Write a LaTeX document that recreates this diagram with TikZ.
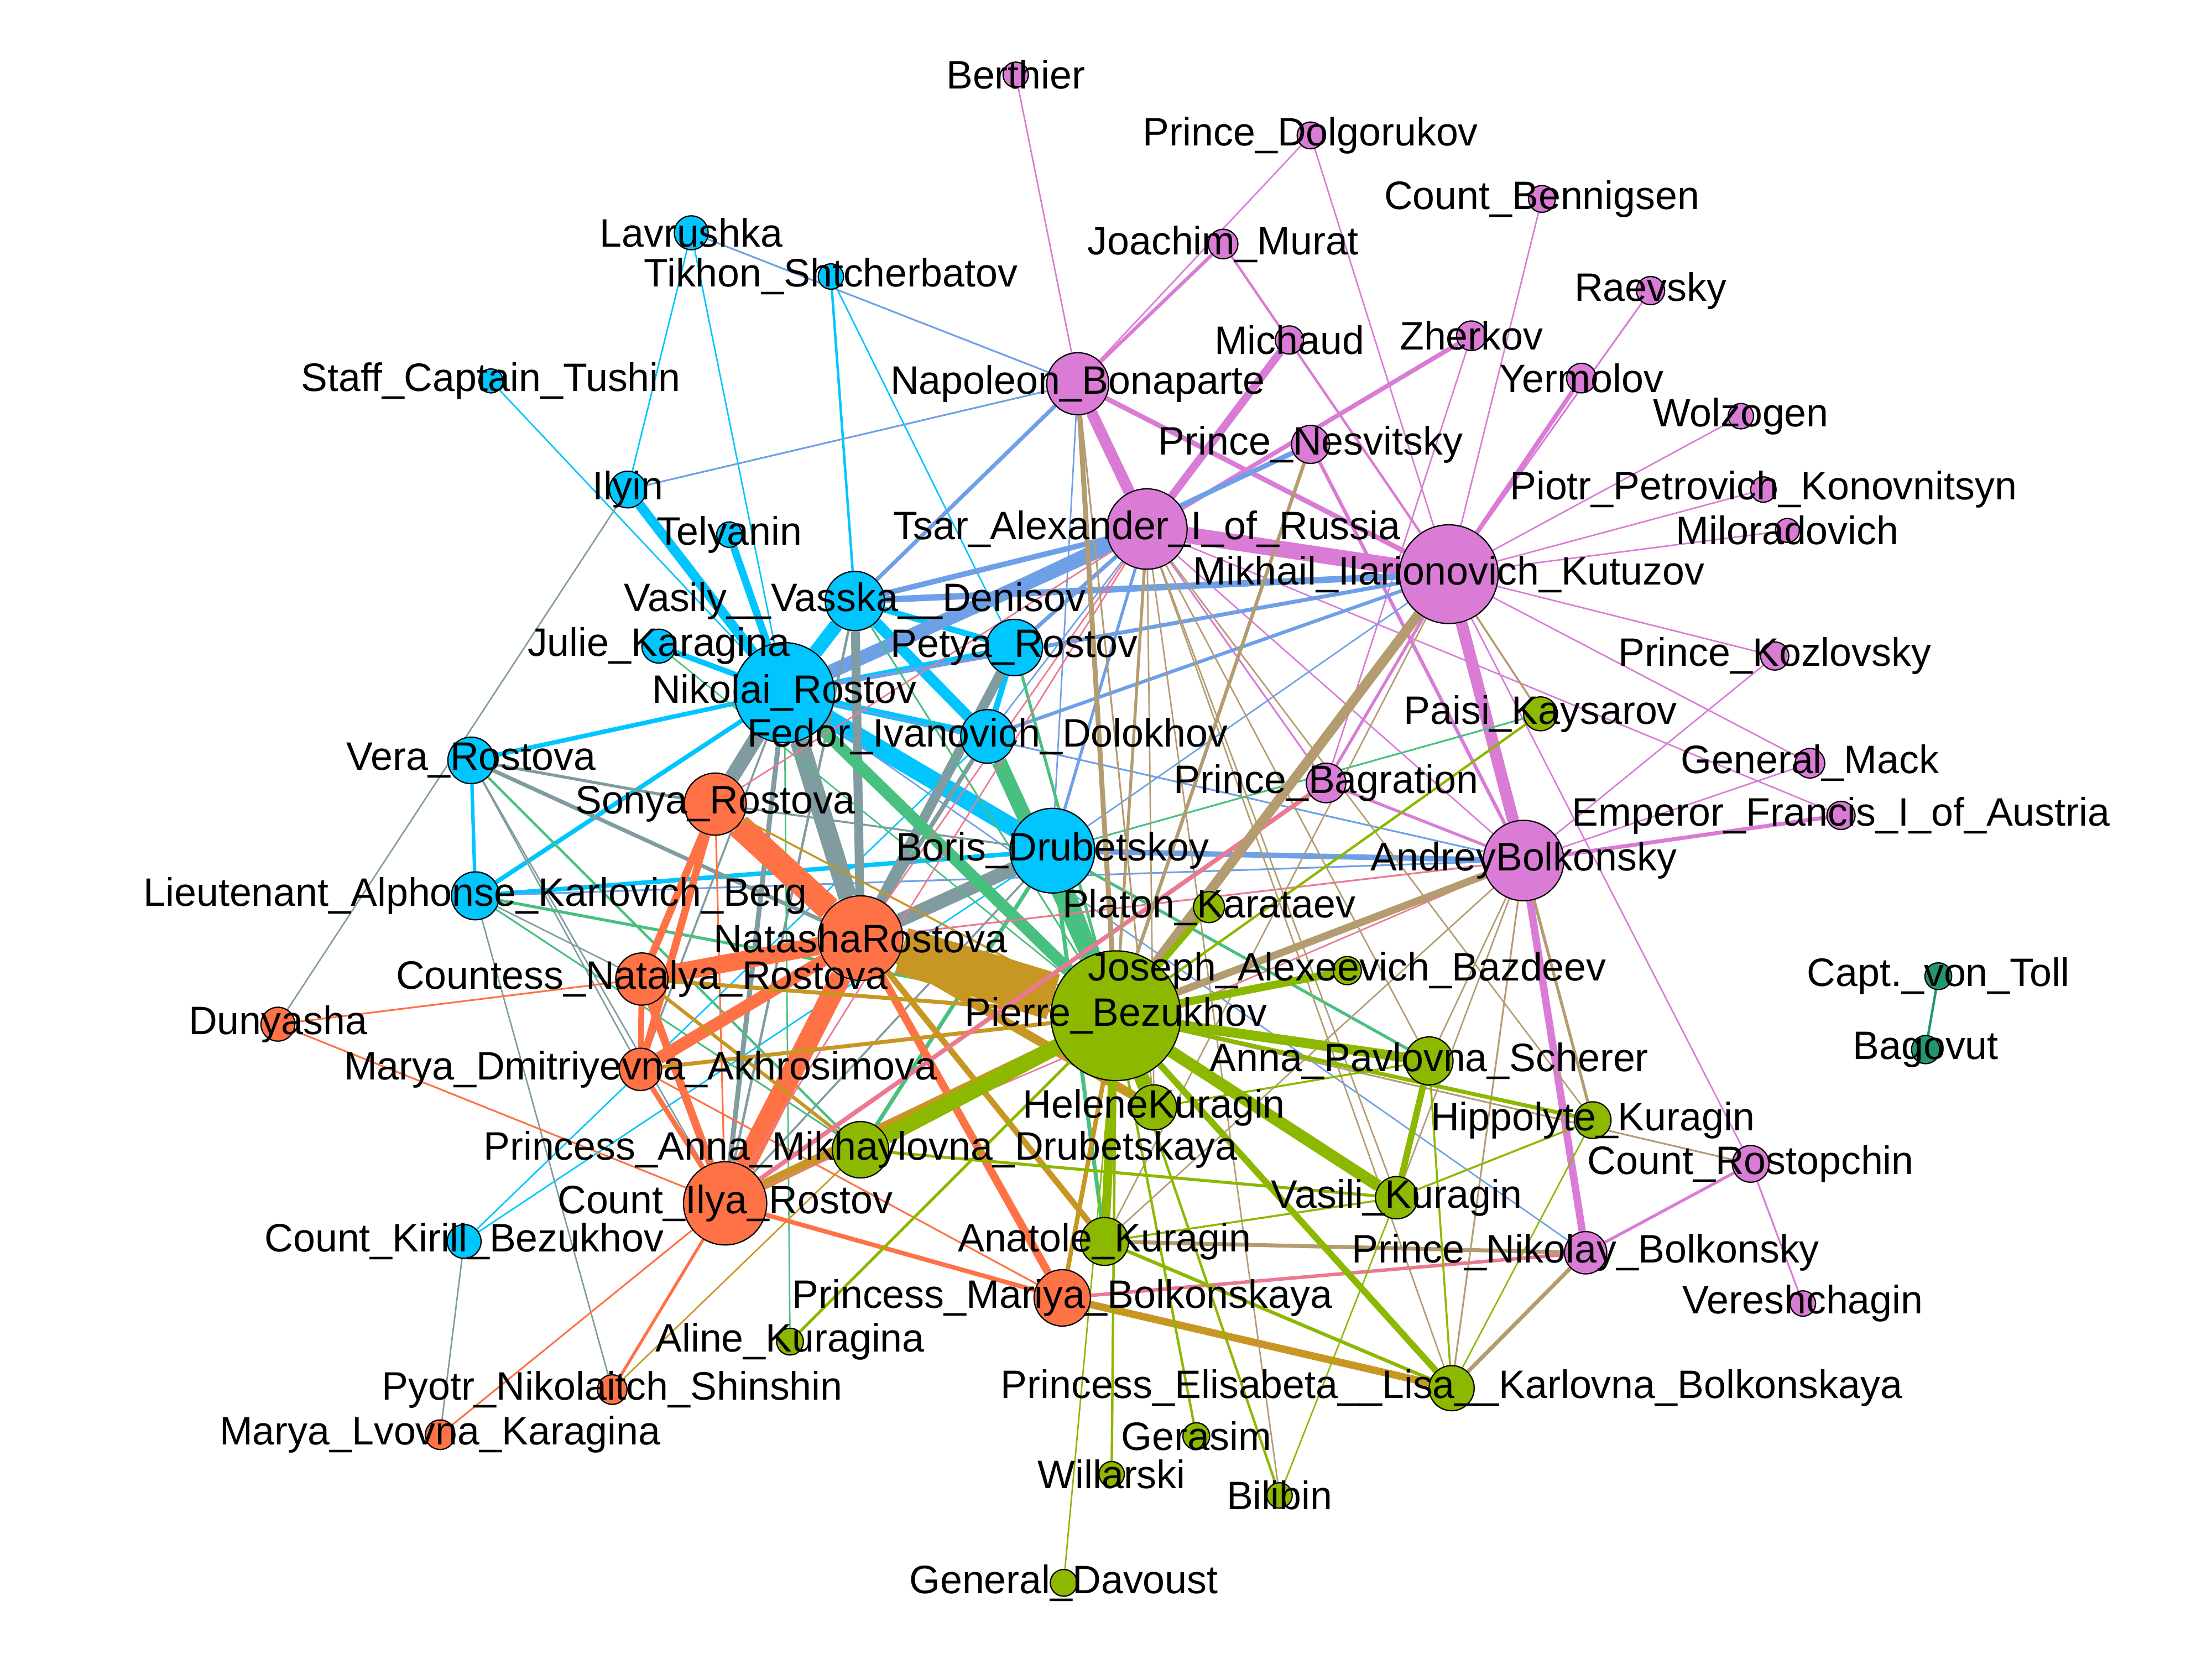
\documentclass[tikz,border=0pt]{standalone}
\usepackage{fontspec}
\setmainfont{Liberation Sans}
\pgfdeclarelayer{edges}
\pgfdeclarelayer{labels}
\pgfsetlayers{edges,main,labels}

\definecolor{nPur}{RGB}{218,123,214}
\definecolor{nBlu}{RGB}{0,197,255}
\definecolor{nOra}{RGB}{255,114,70}
\definecolor{nGre}{RGB}{140,184,0}
\definecolor{nTea}{RGB}{35,150,110}
\definecolor{eBP}{RGB}{110,160,232}
\definecolor{eBO}{RGB}{128,156,160}
\definecolor{ePG}{RGB}{180,156,112}
\definecolor{eOG}{RGB}{200,150,35}
\definecolor{eBG}{RGB}{72,192,128}
\definecolor{eOP}{RGB}{236,120,145}

\tikzset{
  vnode/.style={circle, draw=black, line width=0.25pt, inner sep=0pt},
  lbl/.style={inner sep=0pt, font=\fontsize{8}{9.6}\selectfont},
}

\begin{document}
\begin{tikzpicture}[x=0.1mm, y=-0.1mm]
\useasboundingbox (0,0) rectangle (1568,1176);

% characters: name / x / y / diameter (mm) / colour / label
\foreach \n/\x/\y/\d/\c/\t in {
  pierre/791/720/9.2/nGre/Pierre\_Bezukhov,
  kutuzov/1027/407/7.0/nPur/Mikhail\_Ilarionovich\_Kutuzov,
  nikolai/556/491/7.1/nBlu/Nikolai\_Rostov,
  ilya/514/853/5.9/nOra/Count\_Ilya\_Rostov,
  natasha/610/665/6.0/nOra/NatashaRostova,
  boris/746/603/6.0/nBlu/Boris\_Drubetskoy,
  tsar/813/375/5.7/nPur/Tsar\_Alexander\_I\_of\_Russia,
  andrey/1080/610/5.7/nPur/AndreyBolkonsky,
  napoleon/764/272/4.4/nPur/Napoleon\_Bonaparte,
  sonya/507/570/4.4/nOra/Sonya\_Rostova,
  denisov/606/426/4.2/nBlu/Vasily\_\_Vasska\_\_Denisov,
  petya/719/459/4.0/nBlu/Petya\_Rostov,
  annam/610/815/4.0/nGre/Princess\_Anna\_Mikhaylovna\_Drubetskaya,
  mariya/753/920/4.0/nOra/Princess\_Mariya\_Bolkonskaya,
  dolokhov/700/522/3.8/nBlu/Fedor\_Ivanovich\_Dolokhov,
  countess/455/694/3.7/nOra/Countess\_Natalya\_Rostova,
  anatole/783/880/3.4/nGre/Anatole\_Kuragin,
  annap/1013/752/3.4/nGre/Anna\_Pavlovna\_Scherer,
  berg/337/635/3.4/nBlu/Lieutenant\_Alphonse\_Karlovich\_Berg,
  vera/334/539/3.3/nBlu/Vera\_Rostova,
  helene/818/785/3.2/nGre/HeleneKuragin,
  lisa/1029/984/3.2/nGre/Princess\_Elisabeta\_\_Lisa\_\_Karlovna\_Bolkonskaya,
  vasili/990/849/3.0/nGre/Vasili\_Kuragin,
  akhros/454/758/3.0/nOra/Marya\_Dmitriyevna\_Akhrosimova,
  nbolk/1124/888/3.0/nPur/Prince\_Nikolay\_Bolkonsky,
  bagration/940/555/2.8/nPur/Prince\_Bagration,
  nesvitsky/929/315/2.7/nPur/Prince\_Nesvitsky,
  ilyin/445/347/2.6/nBlu/Ilyin,
  rostopchin/1241/825/2.6/nPur/Count\_Rostopchin,
  hippolyte/1129/794/2.6/nGre/Hippolyte\_Kuragin,
  lavrushka/490/165/2.4/nBlu/Lavrushka,
  julie/467/458/2.4/nBlu/Julie\_Karagina,
  kirill/329/880/2.4/nBlu/Count\_Kirill\_Bezukhov,
  dunyasha/197/726/2.4/nOra/Dunyasha,
  paisi/1092/506/2.4/nGre/Paisi\_Kaysarov,
  platon/857/643/2.2/nGre/Platon\_Karataev,
  murat/867/173/2.1/nPur/Joachim\_Murat,
  zherkov/1043/238/2.1/nPur/Zherkov,
  yermolov/1121/268/2.1/nPur/Yermolov,
  mack/1283/541/2.1/nPur/General\_Mack,
  shinshin/434/985/2.1/nOra/Pyotr\_Nikolaitch\_Shinshin,
  mlvovna/312/1017/2.1/nOra/Marya\_Lvovna\_Karagina,
  michaud/914/241/2.0/nPur/Michaud,
  raevsky/1170/206/2.0/nPur/Raevsky,
  kozlovsky/1258/465/2.0/nPur/Prince\_Kozlovsky,
  francis/1305/578/2.0/nPur/Emperor\_Francis\_I\_of\_Austria,
  joseph/955/688/2.0/nGre/Joseph\_Alexeevich\_Bazdeev,
  bagovut/1365/744/2.0/nTea/Bagovut,
  dolgorukov/929/96/1.9/nPur/Prince\_Dolgorukov,
  bennigsen/1093/141/1.9/nPur/Count\_Bennigsen,
  toll/1374/692/1.9/nTea/Capt.\_von\_Toll,
  aline/560/951/1.9/nGre/Aline\_Kuragina,
  gerasim/848/1018/1.9/nGre/Gerasim,
  davoust/754/1122/1.9/nGre/General\_Davoust,
  berthier/720/53/1.8/nPur/Berthier,
  wolzogen/1234/295/1.8/nPur/Wolzogen,
  konov/1250/347/1.8/nPur/Piotr\_Petrovich\_Konovnitsyn,
  tikhon/589/196/1.8/nBlu/Tikhon\_Shtcherbatov,
  telyanin/517/379/1.8/nBlu/Telyanin,
  vereshchagin/1278/924/1.8/nPur/Vereshchagin,
  willarski/788/1045/1.8/nGre/Willarski,
  bilibin/907/1060/1.8/nGre/Bilibin,
  milorad/1267/376/1.7/nPur/Miloradovich,
  tushin/348/270/1.7/nBlu/Staff\_Captain\_Tushin}{
  \node[vnode, fill=\c, minimum size=\d mm] (\n) at (\x,\y) {};
  \begin{pgfonlayer}{labels}
    \node[lbl] (\n-l) at (\n) {\t};
  \end{pgfonlayer}
}

\begin{pgfonlayer}{edges}
% purple - purple
\foreach \a/\b/\w in {berthier/napoleon/0.3, dolgorukov/napoleon/0.3, dolgorukov/kutuzov/0.3,
  murat/napoleon/0.7, murat/kutuzov/0.5, michaud/tsar/1.6, zherkov/tsar/0.9,
  zherkov/bagration/0.3, bennigsen/kutuzov/0.3, raevsky/kutuzov/0.35, yermolov/kutuzov/0.9,
  wolzogen/kutuzov/0.3, konov/kutuzov/0.3, milorad/kutuzov/0.3, kozlovsky/kutuzov/0.3,
  mack/kutuzov/0.3, napoleon/tsar/2.3, napoleon/kutuzov/1.0, tsar/kutuzov/3.3,
  tsar/andrey/0.3, tsar/bagration/0.35, tsar/francis/0.3, kutuzov/andrey/2.4,
  kutuzov/bagration/0.6, nesvitsky/andrey/0.7, bagration/andrey/0.6, kozlovsky/andrey/0.3,
  mack/andrey/0.3, francis/andrey/0.8, andrey/nbolk/1.5, rostopchin/nbolk/0.6,
  rostopchin/vereshchagin/0.35, kutuzov/rostopchin/0.3}
  \draw[nPur, line width=\w pt] (\a) -- (\b);
\draw[nTea, line width=0.5pt] (toll) -- (bagovut);
% blue - blue
\foreach \a/\b/\w in {ilyin/nikolai/2.0, telyanin/nikolai/1.5, denisov/nikolai/2.8,
  nikolai/boris/3.6, denisov/dolokhov/2.2, nikolai/dolokhov/1.5, petya/dolokhov/1.2,
  denisov/petya/1.2, nikolai/petya/1.1, julie/nikolai/1.1, vera/nikolai/0.9,
  berg/nikolai/0.9, vera/berg/0.7, berg/boris/0.9, tikhon/denisov/0.5, tikhon/petya/0.3,
  lavrushka/ilyin/0.3, lavrushka/nikolai/0.3, tushin/nikolai/0.3, kirill/boris/0.3,
  kirill/dolokhov/0.3}
  \draw[nBlu, line width=\w pt] (\a) -- (\b);
% blue - purple
\foreach \a/\b/\w in {tsar/nikolai/2.8, tsar/denisov/1.1, tsar/petya/0.8, tsar/boris/0.6,
  kutuzov/denisov/1.3, kutuzov/nikolai/0.8, kutuzov/dolokhov/0.7, kutuzov/boris/0.3,
  napoleon/denisov/0.8, napoleon/ilyin/0.35, napoleon/lavrushka/0.35, napoleon/boris/0.3,
  nesvitsky/nikolai/1.0, andrey/boris/1.1, andrey/nikolai/0.35, andrey/berg/0.35,
  nbolk/nikolai/0.3, tsar/dolokhov/0.3}
  \draw[eBP, line width=\w pt] (\a) -- (\b);
% blue - orange
\foreach \a/\b/\w in {nikolai/natasha/3.8, nikolai/sonya/3.0, denisov/natasha/1.8,
  petya/natasha/2.0, boris/natasha/2.8, dolokhov/natasha/0.9, nikolai/ilya/1.0,
  nikolai/akhros/0.4, vera/natasha/0.8, vera/sonya/0.6, vera/ilya/0.3, vera/akhros/0.3,
  berg/countess/0.3, berg/shinshin/0.3, kirill/mlvovna/0.3, ilyin/dunyasha/0.3,
  denisov/ilya/0.5, boris/ilya/0.4, boris/sonya/0.4}
  \draw[eBO, line width=\w pt] (\a) -- (\b);
% blue - green
\foreach \a/\b/\w in {dolokhov/pierre/3.0, nikolai/pierre/2.4, boris/pierre/2.6,
  denisov/pierre/0.35, petya/pierre/0.6, julie/pierre/0.3, vera/annam/0.5, berg/pierre/0.6,
  berg/annam/0.35, boris/annam/0.8, boris/anatole/0.8, boris/annap/0.6, boris/paisi/0.35,
  nikolai/aline/0.3}
  \draw[eBG, line width=\w pt] (\a) -- (\b);
% orange - orange
\foreach \a/\b/\w in {natasha/sonya/5.0, natasha/countess/3.6, natasha/ilya/4.2,
  natasha/akhros/2.5, natasha/mariya/1.6, sonya/countess/1.5, sonya/akhros/1.5,
  sonya/ilya/0.35, countess/ilya/1.6, countess/akhros/1.2, countess/dunyasha/0.35,
  dunyasha/ilya/0.35, akhros/ilya/1.0, ilya/mariya/0.9, akhros/mariya/0.35,
  ilya/shinshin/0.6, ilya/mlvovna/0.35}
  \draw[nOra, line width=\w pt] (\a) -- (\b);
% orange - green
\foreach \a/\b/\w in {natasha/pierre/9.5, ilya/pierre/2.0, countess/pierre/0.8,
  akhros/pierre/0.8, natasha/helene/1.8, natasha/anatole/1.2, mariya/lisa/1.5,
  mariya/pierre/0.9, countess/annam/0.7, shinshin/annam/0.3, sonya/pierre/0.4}
  \draw[eOG, line width=\w pt] (\a) -- (\b);
% orange - purple
\foreach \a/\b/\w in {ilya/bagration/0.9, natasha/andrey/0.35, ilya/andrey/0.3,
  mariya/nbolk/0.7, tsar/sonya/0.3, tsar/natasha/0.3, tsar/ilya/0.3}
  \draw[eOP, line width=\w pt] (\a) -- (\b);
% purple - green
\foreach \a/\b/\w in {kutuzov/pierre/2.0, andrey/pierre/1.5, napoleon/pierre/1.0,
  nesvitsky/pierre/0.7, tsar/pierre/0.6, napoleon/helene/0.35, tsar/annap/0.3,
  tsar/vasili/0.3, tsar/lisa/0.3, tsar/bilibin/0.3, tsar/hippolyte/0.3, tsar/helene/0.3,
  andrey/lisa/0.35, nbolk/lisa/0.8, andrey/hippolyte/0.6, andrey/annap/0.3,
  andrey/vasili/0.3, andrey/anatole/0.3, anatole/nbolk/0.8, kutuzov/paisi/0.4,
  kutuzov/anatole/0.3, rostopchin/pierre/0.35}
  \draw[ePG, line width=\w pt] (\a) -- (\b);
% green - green
\foreach \a/\b/\w in {pierre/helene/3.0, pierre/annam/3.2, pierre/joseph/1.6,
  pierre/annap/2.0, pierre/vasili/2.4, pierre/anatole/1.8, pierre/lisa/1.3,
  pierre/platon/1.2, pierre/paisi/0.5, pierre/hippolyte/0.8, pierre/gerasim/0.5,
  pierre/willarski/0.5, pierre/bilibin/0.5, pierre/davoust/0.3, pierre/aline/0.6,
  annap/vasili/1.3, annap/lisa/0.4, annap/helene/0.4, vasili/hippolyte/0.4,
  vasili/anatole/0.4, annam/vasili/0.6, hippolyte/lisa/0.3, anatole/lisa/0.7,
  vasili/bilibin/0.3}
  \draw[nGre, line width=\w pt] (\a) -- (\b);
\end{pgfonlayer}
\end{tikzpicture}
\end{document}
